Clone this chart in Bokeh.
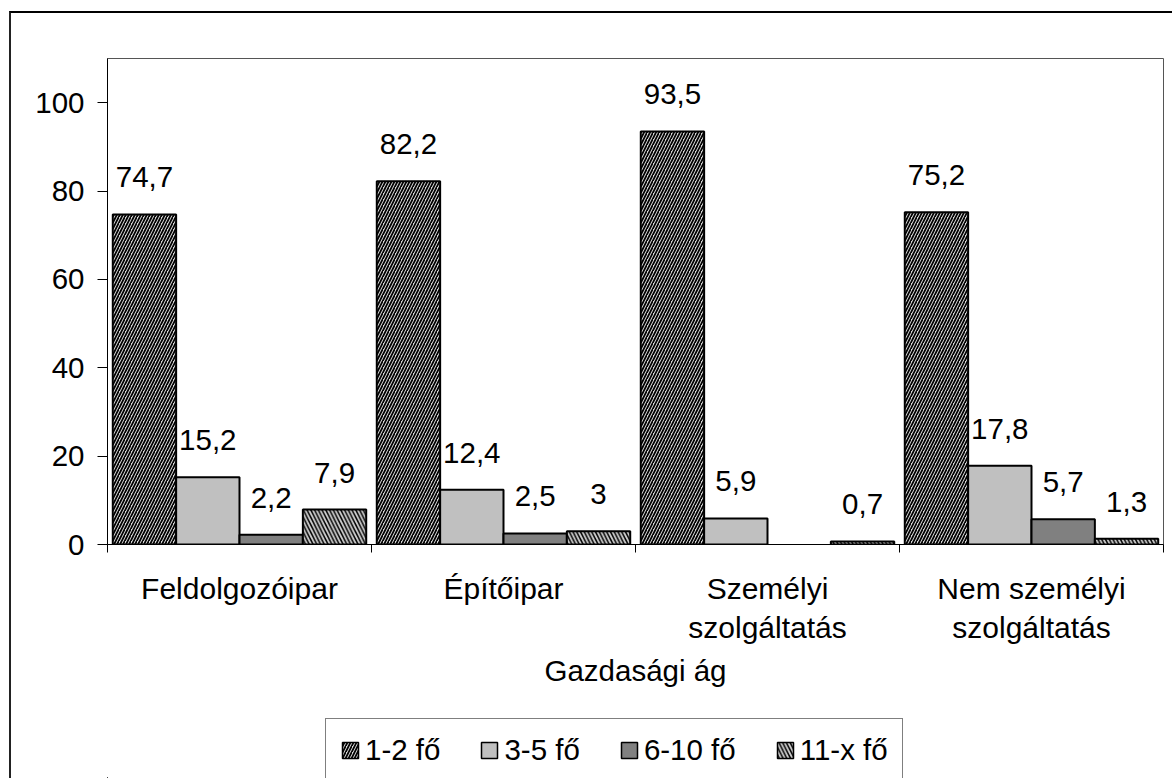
from bokeh.plotting import figure
from bokeh.layouts import column
from bokeh.models import (ColumnDataSource, Range1d, FixedTicker, LinearAxis,
                          Legend, LegendItem)
from bokeh.core.properties import value
from bokeh.embed import file_html
from bokeh.resources import INLINE

# ---------------- data ----------------
categories = ["Feldolgozóipar", "Építőipar", "Személyi\nszolgáltatás", "Nem személyi\nszolgáltatás"]
series_names = ["1-2 fő", "3-5 fő", "6-10 fő", "11-x fő"]
v_1_2 = [74.7, 82.2, 93.5, 75.2]
v_3_5 = [15.2, 12.4, 5.9, 17.8]
v_6_10 = [2.2, 2.5, None, 5.7]
v_11_x = [7.9, 3.0, 0.7, 1.3]
y_ticks = [0, 20, 40, 60, 80, 100]
x_title = "Gazdasági ág"

series_values = [v_1_2, v_3_5, v_6_10, v_11_x]

# ---------------- style ----------------
FONT = "Liberation Sans"
FS = "29.5px"
FS_CAT = "30px"
offsets = [-0.36, -0.12, 0.12, 0.36]
bar_w = 0.24
styles = [
    dict(fill_color="#d8d8d8", hatch_pattern="/", hatch_color="black", hatch_scale=6.0, hatch_weight=1.7),
    dict(fill_color="#c0c0c0"),
    dict(fill_color="#808080"),
    dict(fill_color="#d0d0d0", hatch_pattern="\\", hatch_color="black", hatch_scale=7.5, hatch_weight=1.5),
]

W = 1161
P_H = 705
p = figure(width=W, height=P_H, x_range=Range1d(0, 4), y_range=Range1d(0, 110),
           output_backend="svg", toolbar_location=None, x_axis_location=None,
           min_border_left=96, min_border_top=45, min_border_right=9, min_border_bottom=174)
p.grid.visible = False
p.outline_line_color = "#555555"
p.outline_line_width = 1
p.background_fill_color = "white"
p.border_fill_color = "white"

renderers = []
sources = []
for k, (name, vals) in enumerate(zip(series_names, series_values)):
    xs, tops, labels = [], [], []
    for i, v in enumerate(vals):
        if v is None:
            continue
        xs.append(i + 0.5 + offsets[k])
        tops.append(v)
        labels.append(f"{v:g}".replace(".", ","))
    src = ColumnDataSource(dict(x=xs, top=tops, label=labels))
    sources.append(src)
    r = p.vbar(x="x", top="top", width=bar_w, bottom=0, source=src,
               line_color="black", line_width=2, **styles[k])
    renderers.append(r)
    p.text(x="x", y="top", text="label", source=src, text_align="center",
           text_baseline="bottom", y_offset=-27, text_font=value(FONT),
           text_font_size=FS, text_color="black")

# y axis
ya = p.yaxis[0]
ya.ticker = FixedTicker(ticks=y_ticks)
ya.major_tick_out = 10
ya.major_tick_in = 0
ya.minor_tick_line_color = None
ya.major_label_standoff = 13
ya.major_label_text_font = FONT
ya.major_label_text_font_size = FS
ya.major_label_text_color = "black"
ya.axis_line_color = "black"
ya.axis_line_width = 1
ya.major_tick_line_color = "black"

# x axis: boundary ticks
xa1 = LinearAxis(ticker=FixedTicker(ticks=[0, 1, 2, 3, 4]),
                 major_label_overrides={0: "", 1: "", 2: "", 3: "", 4: ""},
                 major_label_text_font_size="1px", major_label_standoff=0,
                 major_tick_out=8, major_tick_in=0, minor_tick_line_color=None,
                 axis_line_color="black", major_tick_line_color="black")
p.add_layout(xa1, "below")

# x axis: category labels
centers = [i + 0.5 for i in range(len(categories))]
xa2 = LinearAxis(ticker=FixedTicker(ticks=centers),
                 major_label_overrides={c: lab for c, lab in zip(centers, categories)},
                 major_label_text_font=FONT, major_label_text_font_size=FS_CAT,
                 major_label_text_color="black",
                 major_label_text_line_height=1.2,
                 major_label_standoff=13, major_tick_line_color=None,
                 minor_tick_line_color=None, axis_line_color=None,
                 axis_label=x_title, axis_label_text_font=FONT,
                 axis_label_text_color="black",
                 axis_label_text_font_size=FS, axis_label_text_font_style="normal",
                 axis_label_standoff=7)
p.add_layout(xa2, "below")

# legend figure (its renderers share the data but fall outside its ranges)
pl = figure(width=W, height=60, x_range=Range1d(100, 101), y_range=Range1d(100, 101),
            output_backend="svg", toolbar_location=None,
            x_axis_location=None, y_axis_location=None,
            min_border=0, min_border_left=0, min_border_right=0,
            min_border_top=0, min_border_bottom=0)
pl.grid.visible = False
pl.outline_line_color = None
leg_renderers = []
for k in range(len(series_names)):
    leg_renderers.append(pl.vbar(x="x", top="top", width=bar_w, source=sources[k],
                                 line_color="black", line_width=1.5, **styles[k]))

legend = Legend(items=[LegendItem(label=n, renderers=[r]) for n, r in zip(series_names, leg_renderers)],
                orientation="horizontal", location=(218, -4), margin=0,
                label_text_font=FONT, label_text_font_size=FS, label_text_color="black",
                glyph_width=20, glyph_height=20, label_standoff=5, spacing=39,
                padding=14, border_line_color="black", border_line_width=1,
                background_fill_color="white", background_fill_alpha=1.0)
pl.add_layout(legend, "center")

layout = column(p, pl, spacing=0)
layout.styles = {"border-left": "2px solid #222", "border-top": "2px solid #000",
                 "margin-left": "9px", "margin-top": "11px"}

open("out.html", "w").write(file_html(layout, INLINE))
